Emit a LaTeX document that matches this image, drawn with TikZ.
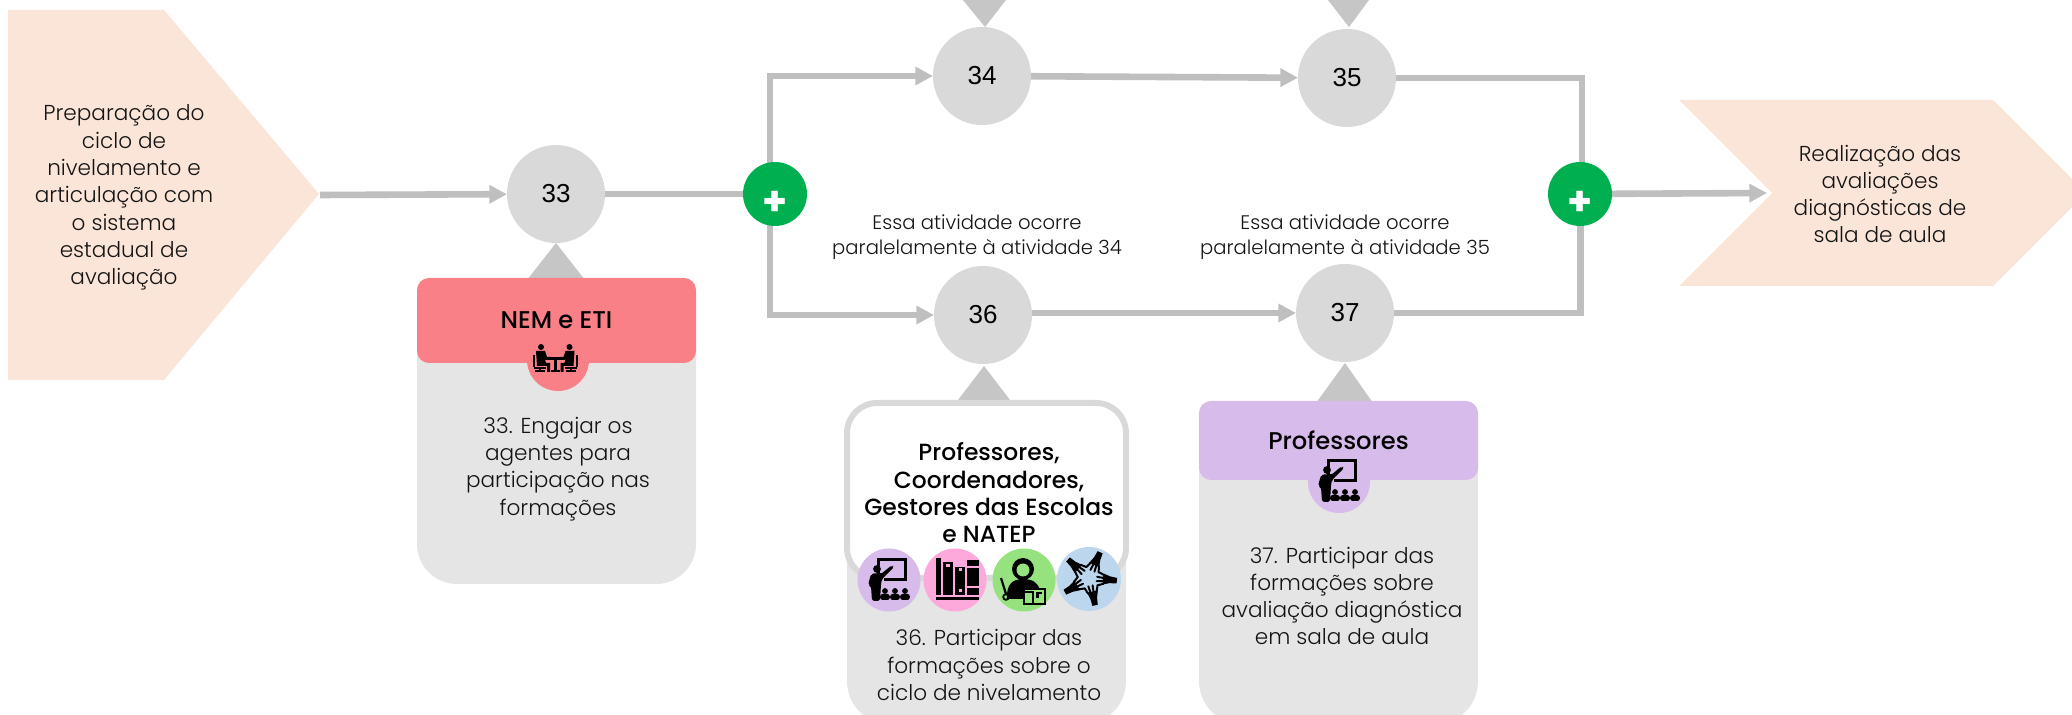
\documentclass[tikz,border=0pt]{standalone}
\usepackage{fontspec}
\setmainfont{Poppins Light}
\newfontfamily\medf{Poppins Medium}
\newfontfamily\boldf{Poppins Bold}
\newfontfamily\numf{Liberation Sans}
\usetikzlibrary{arrows.meta,backgrounds,calc}
\definecolor{peach}{HTML}{FAE5D8}
\definecolor{numgrey}{HTML}{D9D9D9}
\definecolor{conngrey}{HTML}{BFBFBF}
\definecolor{trigrey}{HTML}{C6C6C6}
\definecolor{bodygrey}{HTML}{E5E5E5}
\definecolor{redhead}{HTML}{FA8087}
\definecolor{purplehead}{HTML}{D7BBEA}
\definecolor{pinkc}{HTML}{FEA9DC}
\definecolor{greenc}{HTML}{95E27F}
\definecolor{bluec}{HTML}{BCD6EE}
\definecolor{gate}{HTML}{00B050}
\tikzset{
  numnode/.style={circle,fill=numgrey,minimum size=49pt,inner sep=0pt,outer sep=0pt,font=\numf\fontsize{13}{14}\selectfont,text=black},
  gatenode/.style={circle,fill=gate,minimum size=32pt,inner sep=0pt,outer sep=0pt},
  plusmark/.style={inner sep=0pt,outer sep=0pt,text=white,font=\boldf\fontsize{20}{20}\selectfont},
  conn/.style={draw=conngrey,line width=3.3pt},
  connarrow/.style={conn,-{Triangle[length=8.8pt,width=8.8pt]}},
  bodytext/.style={inner sep=0pt,align=center,font=\fontsize{10.8}{13.65}\selectfont,text=black!92},
  notetext/.style={inner sep=0pt,align=center,font=\fontsize{9.8}{12.2}\selectfont,text=black!92},
  headtext/.style={inner sep=0pt,align=center,font=\medf\fontsize{11.7}{13.65}\selectfont,text=black},
  header/.style={rectangle,rounded corners=6pt,minimum width=139.5pt,inner sep=0pt,outer sep=0pt,align=center,font=\medf\fontsize{12.1}{13.65}\selectfont,text=black},
  pics/teacher/.style={code={
    \draw[black,line width=1.5pt] (-11,0) -- (-11,-20) -- (16,-20) -- (16,0) -- (-5,0);
    \fill[black] (-12,-11) circle[radius=3.9];
    \fill[black,rounded corners=1pt] (-18,-6) -- (-21,5) -- (-18,6) -- (-17,21) -- (-9,21) -- (-8,4) -- (-7,-1) -- (5,-13) -- (3,-15) -- (-8,-6) -- (-12,-7) -- cycle;
    \foreach \cx in {-4,6,16}{
      \fill[black] (\cx,11) circle[radius=2.9];
      \fill[black,rounded corners=1.2pt] (\cx-4.8,20) rectangle (\cx+4.8,14);
    }
  }},
  pics/books/.style={code={
    \fill[black] (-19,-22) rectangle (-14.3,15);
    \fill[black] (-12.3,-18) rectangle (-2.3,15);
    \fill[pinkc] (-9,-16) rectangle (-5.5,-12.5);
    \fill[black] (0.3,-13.3) rectangle (10,15);
    \fill[pinkc] (3.5,-11.5) rectangle (6.5,-8.5);
    \fill[pinkc] (3.5,9) rectangle (6.5,12);
    \fill[black] (11.7,-20) rectangle (23.7,15);
    \fill[pinkc] (11.7,-13.8) rectangle (23.7,-12);
    \fill[pinkc] (11.7,6.5) rectangle (23.7,8.3);
    \fill[black] (-19,16.7) rectangle (23.7,20);
  }},
  pics/student/.style={code={
    \fill[black] (-1,-11) circle[radius=11];
    \fill[black] (-17,19) .. controls (-18,4) and (-11,-1) .. (-1,-1) .. controls (9,-1) and (14,3) .. (16,10) -- (0,19) -- cycle;
    \fill[greenc] (-1,-10) circle[radius=6.5];
    \draw[black,line width=1.2pt,fill=greenc] (0,9) rectangle (21,24);
    \draw[black,line width=1.0pt] (9,12) rectangle (0,24);
    \fill[black] (12,12) rectangle (18,18);
    \fill[greenc] (15,14) rectangle (18,18);
    \draw[black,line width=1.1pt] (-23,-2) -- (-18,14);
    \draw[black,line width=0.9pt] (-18,17) circle[radius=2.8];
  }},
  pics/hands/.style={code={
    \foreach \a in {12,84,156,228,300}{
      \begin{scope}[rotate=\a]
        \fill[black] (-2.5,28) -- (3,28) -- (3.8,21) -- (6,14) -- (-5,14) -- (-3,21) -- cycle;
        \draw[black,line width=1.0pt,line cap=round] (-4.2,15) -- (-6.5,9);
        \draw[black,line width=1.0pt,line cap=round] (-1.5,15) -- (-2.4,8);
        \draw[black,line width=1.0pt,line cap=round] (1.5,15) -- (2,8);
        \draw[black,line width=1.0pt,line cap=round] (4.4,15) -- (6.5,10);
      \end{scope}
    }
  }},
  meetperson/.pic={
    \fill[black] (-15,-13) circle[radius=3];
    \fill[black] (-20,-9) -- (-11,-9) -- (-9,-3) -- (-5,-3) -- (-5,-0.5) -- (-11,-0.5) -- (-10,3) -- (-6,3) -- (-6,12) -- (-9,12) -- (-9,6) -- (-19,6) -- cycle;
    \fill[black] (-23,-5) rectangle (-21.2,7);
    \fill[black] (-22,7) rectangle (-10,8.6);
    \fill[black] (-17,8) rectangle (-15.5,10);
    \fill[black] (-21,10.2) rectangle (-11,12);
  },
  pics/meeting/.style={code={
    \pic at (0,0) {meetperson};
    \pic[xscale=-1] at (-1.5,0) {meetperson};
    \fill[black] (-11,-2.5) rectangle (9,0);
    \fill[black] (-2.5,0) rectangle (1,10);
    \fill[black] (-5.5,10) rectangle (4,12);
  }}
}
\begin{document}
\begin{tikzpicture}[x=0.5pt,y=-0.5pt]
\useasboundingbox (0,0) rectangle (2072,715);

% start and end shapes
\fill[peach] (8,10) -- (164,10) -- (319,194) -- (164,380) -- (8,380) -- cycle;
\fill[peach] (1679,100) -- (1993,100) -- (2072,179) -- (2072,207) -- (1993,286) -- (1679,286) -- (1772,193) -- cycle;
\coordinate (starttip) at (320,195);
\coordinate (endnotch) at (1767,193);
\node[bodytext] (starttext) at (124,197.5) {Preparação do\\ciclo de\\nivelamento e\\articulação com\\o sistema\\estadual de\\avaliação};
\node[bodytext] (endtext) at (1880,194) {Realização das\\avaliações\\diagnósticas de\\sala de aula};

% triangles
\fill[trigrey] (963,0) -- (1006,0) -- (985,27) -- cycle;
\fill[trigrey] (1328,0) -- (1369,0) -- (1349,27) -- cycle;
\fill[trigrey] (527,280) -- (585,280) -- (556,243) -- cycle;
\fill[trigrey] (958,400) -- (1010,400) -- (984,366) -- cycle;
\fill[trigrey] (1316,403) -- (1373,403) -- (1345,363) -- cycle;

% activity nodes
\node[numnode] (n33) at (556,194) {33};
\node[numnode] (n34) at (982,76) {34};
\node[numnode] (n35) at (1347,78) {35};
\node[numnode] (n36) at (983,315) {36};
\node[numnode] (n37) at (1345,313) {37};
\node[gatenode] (g1) at (775,194) {};
\node[gatenode] (g2) at (1580,194) {};
\node[plusmark] (p1) at (775,203) {+};
\node[plusmark] (p2) at (1580,203) {+};

% connectors
\begin{scope}[on background layer]
  \draw[connarrow] (starttip) -- (n33);
  \draw[conn] (n33) -- (g1);
  \draw[connarrow] ([xshift=-2.5pt]g1.center) |- (n34);
  \draw[connarrow] ([xshift=-2.5pt]g1.center) |- (n36);
  \draw[connarrow] (n34) -- (n35);
  \draw[connarrow] (n36.east |- n37.west) -- (n37);
  \draw[conn] (n35) -| ([xshift=1pt]g2.center);
  \draw[conn] (n37) -| ([xshift=0.3pt]g2.center);
  \draw[connarrow] (g2) -- (endnotch);
\end{scope}

% notes
\node[notetext] (note34) at (977,237) {Essa atividade ocorre\\paralelamente à atividade 34};
\node[notetext] (note35) at (1345,237) {Essa atividade ocorre\\paralelamente à atividade 35};

% card 33
\fill[bodygrey,rounded corners=20pt] (417,300) rectangle (696,584);
\fill[redhead] (558,360) circle[radius=31];
\node[header,fill=redhead,minimum height=42.5pt] (h33) at (556.5,320.5) {NEM e ETI};
\fill[redhead] (527,350) rectangle (589,362);
\pic at (556,360) {meeting};
\node[bodytext] (t33) at (558,469) {33. Engajar os\\agentes para\\participação nas\\formações};

% card 36
\begin{scope}
  \clip (0,0) rectangle (2072,715);
  \fill[bodygrey,rounded corners=22pt] (847,500) rectangle (1126,725);
  \fill[bodygrey,rounded corners=22pt] (1199,420) rectangle (1478,725);
\end{scope}
\draw[numgrey,fill=white,line width=3pt,rounded corners=15pt] (847,403) rectangle (1126,578);
\fill[purplehead] (889,580) circle[radius=31.5];
\fill[pinkc] (955,580) circle[radius=31.5];
\fill[greenc] (1024,580) circle[radius=31.5];
\fill[bluec] (1089,579) circle[radius=32];
\pic at (889,580) {teacher};
\pic at (955,580) {books};
\pic at (1024,580) {student};
\pic at (1089,578) {hands};
\node[headtext] (h36) at (989,493) {Professores,\\Coordenadores,\\Gestores das Escolas\\e NATEP};
\node[bodytext] (t36) at (989,665) {36. Participar das\\formações sobre o\\ciclo de nivelamento};

% card 37
\fill[purplehead] (1339,482) circle[radius=31];
\node[header,fill=purplehead,minimum height=39.5pt] (h37) at (1338.5,440.5) {Professores};
\pic at (1339,481) {teacher};
\node[bodytext] (t37) at (1342,596) {37. Participar das\\formações sobre\\avaliação diagnóstica\\em sala de aula};
\end{tikzpicture}
\end{document}
